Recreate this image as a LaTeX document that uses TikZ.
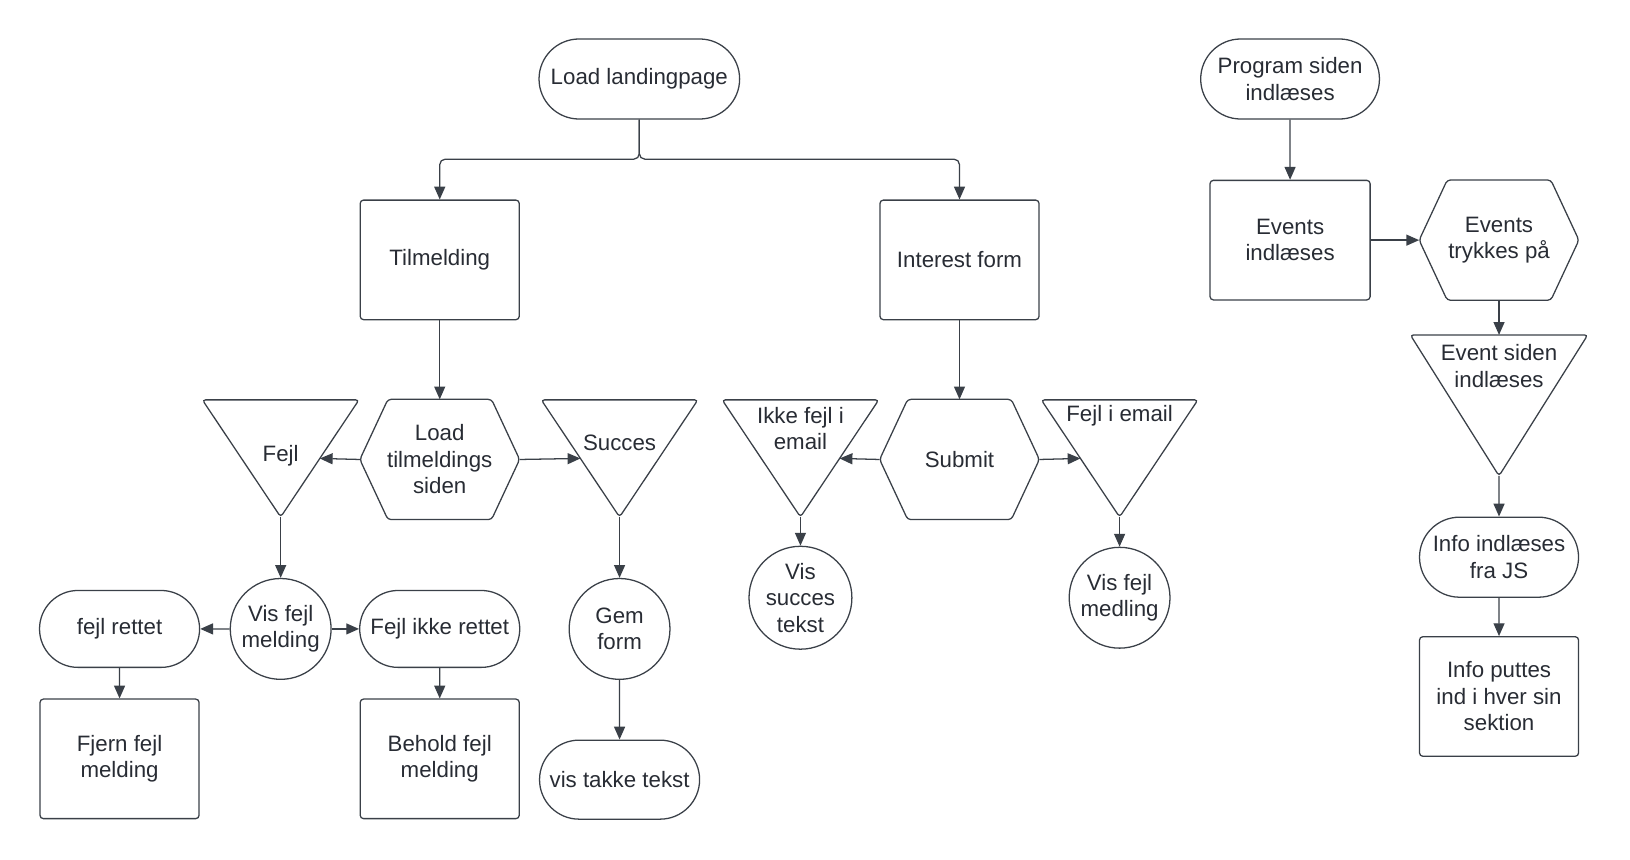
\documentclass[tikz,border=0pt]{standalone}
\usepackage{fontspec}
\setmainfont{Liberation Sans}
\usetikzlibrary{positioning,calc,arrows.meta,shapes.misc}
\definecolor{linegray}{RGB}{58,64,72}
\definecolor{textgray}{RGB}{40,44,52}

\begin{document}
\begin{tikzpicture}[x=0.02cm,y=-0.02cm,
	every node/.style={font=\fontsize{12.2}{14.5}\selectfont,text=textgray,align=center,inner sep=0pt},
	boxnode/.style={draw=linegray,line width=0.7pt,rounded corners=1.8pt,minimum width=3.06cm,minimum height=2.3cm},
	termnode/.style={draw=linegray,line width=0.7pt,rounded rectangle,minimum width=3.06cm,minimum height=1.5cm},
	circnode/.style={draw=linegray,line width=0.7pt,circle,minimum size=1.94cm},
	hexnode/.style={rectangle,minimum width=3.06cm,minimum height=2.3cm},
	trinode/.style={rectangle,minimum width=3.0cm,minimum height=2.24cm},
	outline/.style={draw=linegray,line width=0.7pt,rounded corners=1.8pt},
	flow/.style={draw=linegray,line width=0.7pt,-{Triangle[length=7pt,width=6pt]}}]
		\useasboundingbox (0,0) rectangle (1568,827);

		% left part
		\node[termnode,minimum width=3.86cm,minimum height=1.54cm] (landing) at (615,76) {Load landingpage};
		\node[boxnode] 		(tilm)		at (423,250) {Tilmelding};
		\node[boxnode] 		(interest)	at (923,250) {Interest form};

		\node[hexnode] 		(load)		at (423,442) {Load\\tilmeldings\\siden};
		\node[trinode] 		(fejl)		at (270,441) {};
		\node 				(fejltxt)	at (270,438) {Fejl};
		\node[trinode] 		(succes)	at (596,441) {};
		\node 				(succestxt)	at (596,426) {Succes};

		\node[circnode] 	(visfejl)	at (270,605) {Vis fejl\\melding};
		\node[termnode,minimum width=3.08cm,minimum height=1.48cm] (rettet)	at (115,605) {fejl rettet};
		\node[termnode,minimum width=3.08cm,minimum height=1.48cm] (ikkerettet) at (423,605) {Fejl ikke rettet};
		\node[boxnode] 		(fjern)		at (115,730) {Fjern fejl\\melding};
		\node[boxnode] 		(behold)	at (423,730) {Behold fejl\\melding};
		\node[circnode] 	(gem)		at (596,605) {Gem\\form};
		\node[termnode,minimum width=3.08cm,minimum height=1.52cm] (takke) at (596,750) {vis takke tekst};

		% interest form
		\node[hexnode] 		(submit)	at (923,442) {Submit};
		\node[trinode] 		(ikkefejl)	at (770,441) {};
		\node 				(ikkefejltxt) at (770,412) {Ikke fejl i\\email};
		\node[trinode] 		(fejlemail)	at (1077,441) {};
		\node 				(fejlemailtxt) at (1077,400) {Fejl i email};
		\node[circnode,minimum size=1.98cm] (vissucces) at (770,575) {Vis\\succes\\tekst};
		\node[circnode] 	(vismedling) at (1077,575) {Vis fejl\\medling};

		% program side
		\node[termnode,minimum width=3.44cm,minimum height=1.54cm] (program) at (1241,76) {Program siden\\indlæses};
		\node[boxnode,minimum width=3.08cm] (events) at (1241,231) {Events\\indlæses};
		\node[hexnode] 		(trykkes)	at (1442,231) {Events\\trykkes på};
		\node[trinode,minimum width=3.4cm,minimum height=2.7cm] (eventside) at (1442,390) {};
		\node 				(eventsidetxt) at (1442,352) {Event siden\\indlæses};
		\node[termnode,minimum height=1.54cm] (info) at (1442,536) {Info indlæses\\fra JS};
		\node[boxnode] 		(puttes)	at (1442,670) {Info puttes\\ind i hver sin\\sektion};

		% hexagons
		\draw[outline] (load.west) -- ([xshift=0.54cm]load.north west) -- ([xshift=-0.54cm]load.north east) -- (load.east) -- ([xshift=-0.54cm]load.south east) -- ([xshift=0.54cm]load.south west) -- cycle;
		\draw[outline] (submit.west) -- ([xshift=0.54cm]submit.north west) -- ([xshift=-0.54cm]submit.north east) -- (submit.east) -- ([xshift=-0.54cm]submit.south east) -- ([xshift=0.54cm]submit.south west) -- cycle;
		\draw[outline] (trykkes.west) -- ([xshift=0.54cm]trykkes.north west) -- ([xshift=-0.54cm]trykkes.north east) -- (trykkes.east) -- ([xshift=-0.54cm]trykkes.south east) -- ([xshift=0.54cm]trykkes.south west) -- cycle;

		% triangles
		\draw[outline] (fejl.north west) -- (fejl.north east) -- (fejl.south) -- cycle;
		\draw[outline] (succes.north west) -- (succes.north east) -- (succes.south) -- cycle;
		\draw[outline] (ikkefejl.north west) -- (ikkefejl.north east) -- (ikkefejl.south) -- cycle;
		\draw[outline] (fejlemail.north west) -- (fejlemail.north east) -- (fejlemail.south) -- cycle;
		\draw[outline] (eventside.north west) -- (eventside.north east) -- (eventside.south) -- cycle;

		% connectors
		\draw[flow,rounded corners=3pt] (landing.south) -- ++(0,38) -| (tilm.north);
		\draw[flow,rounded corners=3pt] (landing.south) -- ++(0,38) -| (interest.north);
		\draw[flow] (tilm) -- (load);
		\draw[flow] (load.west) -- ($(fejl.north east)!0.5!(fejl.south)$);
		\draw[flow] (load.east) -- ($(succes.north west)!0.5!(succes.south)$);
		\draw[flow] (fejl.south) -- (visfejl);
		\draw[flow] (visfejl) -- (rettet);
		\draw[flow] (visfejl) -- (ikkerettet);
		\draw[flow] (rettet) -- (fjern);
		\draw[flow] (ikkerettet) -- (behold);
		\draw[flow] (succes.south) -- (gem);
		\draw[flow] (gem) -- (takke);
		\draw[flow] (interest) -- (submit);
		\draw[flow] (submit.west) -- ($(ikkefejl.north east)!0.5!(ikkefejl.south)$);
		\draw[flow] (submit.east) -- ($(fejlemail.north west)!0.5!(fejlemail.south)$);
		\draw[flow] (ikkefejl.south) -- (vissucces);
		\draw[flow] (fejlemail.south) -- (vismedling);
		\draw[flow] (program) -- (events);
		\draw[flow] (events) -- (trykkes);
		\draw[flow] (trykkes.south) -- (eventside.north);
		\draw[flow] (eventside.south) -- (info);
		\draw[flow] (info) -- (puttes);
	\end{tikzpicture}
\end{document}
